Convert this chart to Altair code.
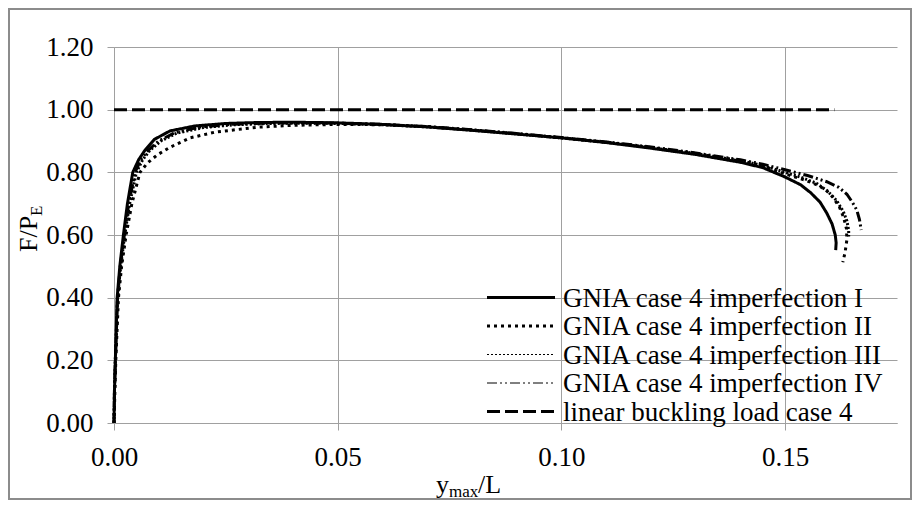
import altair as alt
import pandas as pd

SERIES = [
    "GNIA case 4 imperfection I",
    "GNIA case 4 imperfection II",
    "GNIA case 4 imperfection III",
    "GNIA case 4 imperfection IV",
    "linear buckling load case 4",
]

I_X = [0, 0.0001, 0.0003, 0.0007, 0.0013, 0.0021, 0.003, 0.0042, 0.0055, 0.0069, 0.009, 0.0125,
       0.018, 0.025, 0.032, 0.04, 0.05, 0.06, 0.07, 0.08, 0.09, 0.10, 0.11, 0.12, 0.13, 0.14,
       0.145, 0.15, 0.1535, 0.1557, 0.1578, 0.1593, 0.1605, 0.1612, 0.1614, 0.1613]
I_Y = [0, 0.1, 0.2, 0.4, 0.5, 0.6, 0.7, 0.8, 0.84, 0.87, 0.905, 0.932,
       0.948, 0.956, 0.959, 0.96, 0.958, 0.953, 0.945, 0.934, 0.922, 0.91, 0.895, 0.877, 0.857, 0.832,
       0.815, 0.785, 0.76, 0.735, 0.705, 0.67, 0.635, 0.6, 0.575, 0.552]

II_X = [0, 0.0002, 0.0004, 0.001, 0.0017, 0.0027, 0.004, 0.0058, 0.0075, 0.0096, 0.0125, 0.017,
        0.0225, 0.032, 0.04, 0.05, 0.06, 0.07, 0.08, 0.09, 0.10, 0.11, 0.12, 0.13, 0.14, 0.145,
        0.15, 0.1545, 0.1571, 0.159, 0.1607, 0.1621, 0.1631, 0.1637, 0.1638, 0.1634, 0.1629]
II_Y = [0, 0.1, 0.2, 0.4, 0.5, 0.6, 0.7, 0.8, 0.83, 0.855, 0.88, 0.91,
        0.928, 0.944, 0.95, 0.953, 0.952, 0.946, 0.935, 0.923, 0.91, 0.896, 0.879, 0.86, 0.836, 0.82,
        0.795, 0.775, 0.76, 0.745, 0.72, 0.69, 0.655, 0.62, 0.585, 0.545, 0.513]

III_X = [0, 0.0001, 0.0003, 0.0008, 0.0015, 0.0024, 0.0035, 0.005, 0.0064, 0.008, 0.0105, 0.014,
         0.02, 0.027, 0.035, 0.043, 0.05, 0.06, 0.07, 0.08, 0.09, 0.10, 0.11, 0.12, 0.13, 0.14,
         0.145, 0.15, 0.154, 0.157, 0.1595, 0.1615, 0.163, 0.1638, 0.1642, 0.1642]
III_Y = [0, 0.1, 0.2, 0.4, 0.5, 0.6, 0.7, 0.8, 0.84, 0.87, 0.9, 0.925,
         0.943, 0.952, 0.956, 0.957, 0.956, 0.952, 0.945, 0.935, 0.923, 0.91, 0.896, 0.879, 0.86, 0.837,
         0.822, 0.8, 0.782, 0.765, 0.74, 0.71, 0.675, 0.645, 0.615, 0.595]

IV_X = [0, 0.0001, 0.0003, 0.0008, 0.0014, 0.0023, 0.0033, 0.0047, 0.006, 0.0076, 0.01, 0.0135,
        0.019, 0.026, 0.034, 0.042, 0.05, 0.06, 0.07, 0.08, 0.09, 0.10, 0.11, 0.12, 0.13, 0.14,
        0.145, 0.15, 0.155, 0.1593, 0.162, 0.1638, 0.165, 0.166, 0.1666, 0.167]
IV_Y = [0, 0.1, 0.2, 0.4, 0.5, 0.6, 0.7, 0.8, 0.84, 0.87, 0.9, 0.926,
        0.944, 0.953, 0.957, 0.958, 0.957, 0.953, 0.946, 0.936, 0.924, 0.911, 0.897, 0.881, 0.862, 0.84,
        0.826, 0.808, 0.79, 0.77, 0.752, 0.73, 0.705, 0.68, 0.65, 0.616]

LIN_X = [0.0, 0.161]
LIN_Y = [1.0, 1.0]

X_TICKS = [0.0, 0.05, 0.10, 0.15]
Y_TICKS = [0.0, 0.2, 0.4, 0.6, 0.8, 1.0, 1.2]

# styles
DASHES = [[1, 0], [3, 4], [2, 2], [10, 3, 2, 3, 2, 3], [13, 5]]
WIDTHS = [3, 3, 1, 1, 3]
FONT = "Liberation Serif"
GRID = "#a0a0a0"
W, H = 783, 376

rows = []
for name, xs, ys in zip(SERIES, [I_X, II_X, III_X, IV_X, LIN_X], [I_Y, II_Y, III_Y, IV_Y, LIN_Y]):
    for k, (a, b) in enumerate(zip(xs, ys)):
        rows.append({"series": name, "x": a, "y": b, "k": k})
df = pd.DataFrame(rows)

dash_scale = alt.Scale(domain=SERIES, range=DASHES)
width_scale = alt.Scale(domain=SERIES, range=WIDTHS)

lines = alt.Chart(df).mark_line(color="black", strokeCap="butt").encode(
    x=alt.X("x:Q", scale=alt.Scale(domain=[0, 0.175], nice=False, zero=False),
            axis=alt.Axis(values=X_TICKS, format=".2f", title=None, labelPadding=14, labelFlush=False)),
    y=alt.Y("y:Q", scale=alt.Scale(domain=[0, 1.2], nice=False),
            axis=alt.Axis(values=Y_TICKS, format=".2f", title=None, labelPadding=14, labelFlush=False)),
    detail="series:N",
    strokeDash=alt.StrokeDash("series:N", scale=dash_scale, legend=None),
    strokeWidth=alt.StrokeWidth("series:N", scale=width_scale, legend=None),
    order="k:Q",
)

layers = [lines]

# manual legend
LEG_X0, LEG_X1, LEG_TX = 373, 441, 449
LEG_Y0, LEG_DY = 250.5, 28.5
for i, name in enumerate(SERIES):
    ldf = pd.DataFrame({"label": [name]})
    yv = LEG_Y0 + i * LEG_DY
    layers.append(
        alt.Chart(ldf).mark_rule(color="black", strokeDash=DASHES[i], strokeWidth=WIDTHS[i], strokeCap="butt")
        .encode(x=alt.value(LEG_X0), x2=alt.value(LEG_X1), y=alt.value(yv))
    )
    layers.append(
        alt.Chart(ldf).mark_text(align="left", baseline="middle", font=FONT, fontSize=27, color="black")
        .encode(text="label:N", x=alt.value(LEG_TX), y=alt.value(yv + 1))
    )

# axis titles with subscripts
one = pd.DataFrame({"a": [0]})
def txt(s, x, y, size, **kw):
    return alt.Chart(one).mark_text(text=s, font=FONT, fontSize=size, color="black", **kw).encode(
        x=alt.value(x), y=alt.value(y))

layers += [
    txt("y", 322, 446, 26, align="left", baseline="alphabetic"),
    txt("max", 335, 450, 17, align="left", baseline="alphabetic"),
    txt("/L", 364, 446, 26, align="left", baseline="alphabetic"),
    txt("F/P", -77, 205, 26, align="left", baseline="alphabetic", angle=270),
    txt("E", -72, 169, 17, align="left", baseline="alphabetic", angle=270),
]

# outer frame
layers.append(
    alt.Chart(one).mark_rect(fillOpacity=0, stroke="#8c8c8c", strokeWidth=2).encode(
        x=alt.value(-105), x2=alt.value(W + 14), y=alt.value(-38), y2=alt.value(H + 76))
)

chart = alt.layer(*layers).properties(
    width=W, height=H,
    autosize=alt.AutoSizeParams(type="none"),
    padding={"left": 106, "top": 39, "right": 15, "bottom": 77},
    background="white",
).configure_axis(
    labelFont=FONT, labelFontSize=27, labelColor="black",
    gridColor=GRID, gridWidth=1, domainColor=GRID, domainWidth=1,
    tickColor=GRID, tickSize=7, tickWidth=1,
).configure_view(stroke=None)

chart.save("out.html", embed_options={"renderer": "svg", "actions": False})
